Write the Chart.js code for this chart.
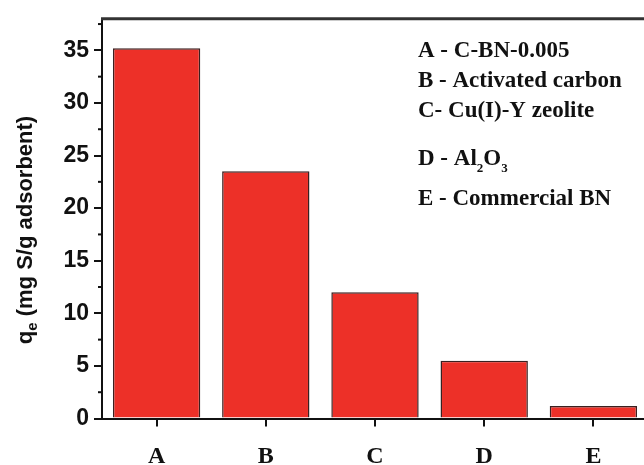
<!DOCTYPE html>
<html><head><meta charset="utf-8">
<script src="https://cdn.jsdelivr.net/npm/chart.js@4/dist/chart.umd.min.js"></script>
<style>html,body{margin:0;padding:0;background:#fff;overflow:hidden}#wrap{width:644px;height:465px;overflow:hidden}</style>
</head><body><div id="wrap"><canvas id="c" width="648" height="465"></canvas></div>
<script>
const categories = ["A","B","C","D","E"];
const qeValues = [35.2, 23.5, 12.0, 5.5, 1.2];
const yTicks = [0,5,10,15,20,25,30,35];
const yMinorTicks = [2.5,7.5,12.5,17.5,22.5,27.5,32.5,37.5];
const legendLines = [
  [["A - C-BN-0.005",0]],
  [["B - Activated carbon",0]],
  [["C- Cu(I)-Y zeolite",0]],
  [["D - Al",0],["2",1],["O",0],["3",1]],
  [["E - Commercial BN",0]]
];
const yTitle = [["q",0],["e",1],[" (mg S/g adsorbent)",0]];

const serif = '"Liberation Serif", "Times New Roman", serif';
const sans = '"Liberation Sans", Arial, sans-serif';

const extras = {
  id:'extras',
  afterDraw(chart){
    const ctx = chart.ctx, ca = chart.chartArea, y = chart.scales.y;
    ctx.save();
    ctx.strokeStyle = '#333'; ctx.lineWidth = 3;
    ctx.beginPath(); ctx.moveTo(ca.left-1, ca.top); ctx.lineTo(ca.right, ca.top); ctx.stroke();
    ctx.strokeStyle = '#111'; ctx.lineWidth = 2;
    yMinorTicks.forEach(v => {
      const py = y.getPixelForValue(v);
      ctx.beginPath(); ctx.moveTo(ca.left-4, py); ctx.lineTo(ca.left, py); ctx.stroke();
    });
    ctx.fillStyle = '#111'; ctx.textBaseline = 'alphabetic';
    const lys = [57, 87, 117, 165, 205];
    legendLines.forEach((parts, i) => {
      let x = 418;
      parts.forEach(([t, sub]) => {
        ctx.font = sub ? 'bold 13px ' + serif : 'bold 23px ' + serif;
        ctx.fillText(t, x, lys[i] + (sub ? 7 : 0));
        x += ctx.measureText(t).width;
      });
    });
    ctx.translate(32, 230);
    ctx.rotate(-Math.PI/2);
    let total = 0;
    const fnt = sub => sub ? 'bold 15px ' + sans : 'bold 22px ' + sans;
    yTitle.forEach(([t, sub]) => { ctx.font = fnt(sub); total += ctx.measureText(t).width; });
    let x = -total/2;
    yTitle.forEach(([t, sub]) => {
      ctx.font = fnt(sub);
      ctx.fillText(t, x, sub ? 5 : 0);
      x += ctx.measureText(t).width;
    });
    ctx.restore();
  }
};

new Chart(document.getElementById('c'), {
  type: 'bar',
  data: { labels: categories, datasets: [{ data: qeValues, backgroundColor: '#ED3028', borderColor: '#3a2020', borderWidth: 1.5, borderSkipped: 'bottom', barPercentage: 0.8, categoryPercentage: 1.0 }] },
  options: {
    responsive: false, animation: false, devicePixelRatio: 1,
    layout: { padding: { left: 0, right: 0, top: 15, bottom: 0 } },
    plugins: { legend: { display: false }, tooltip: { enabled: false } },
    scales: {
      x: {
        afterFit(s){ s.height = 46.5; },
        grid: { display: true, offset: false, drawOnChartArea: false, drawTicks: true, tickLength: 8, color: '#111', lineWidth: 2 },
        border: { display: true, color: '#111', width: 2 },
        ticks: { color: '#111', padding: 16, font: { family: serif, size: 24, weight: 'bold' } }
      },
      y: {
        min: 0, max: 38,
        afterFit(s){ s.width = 102; },
        afterBuildTicks(s){ s.ticks = yTicks.map(v => ({ value: v })); },
        grid: { display: true, drawOnChartArea: false, drawTicks: true, tickLength: 8, color: '#111', lineWidth: 2 },
        border: { display: true, color: '#111', width: 2 },
        ticks: { color: '#111', padding: 5, font: { family: sans, size: 23, weight: 'bold' } }
      }
    }
  },
  plugins: [extras]
});
</script></body></html>
